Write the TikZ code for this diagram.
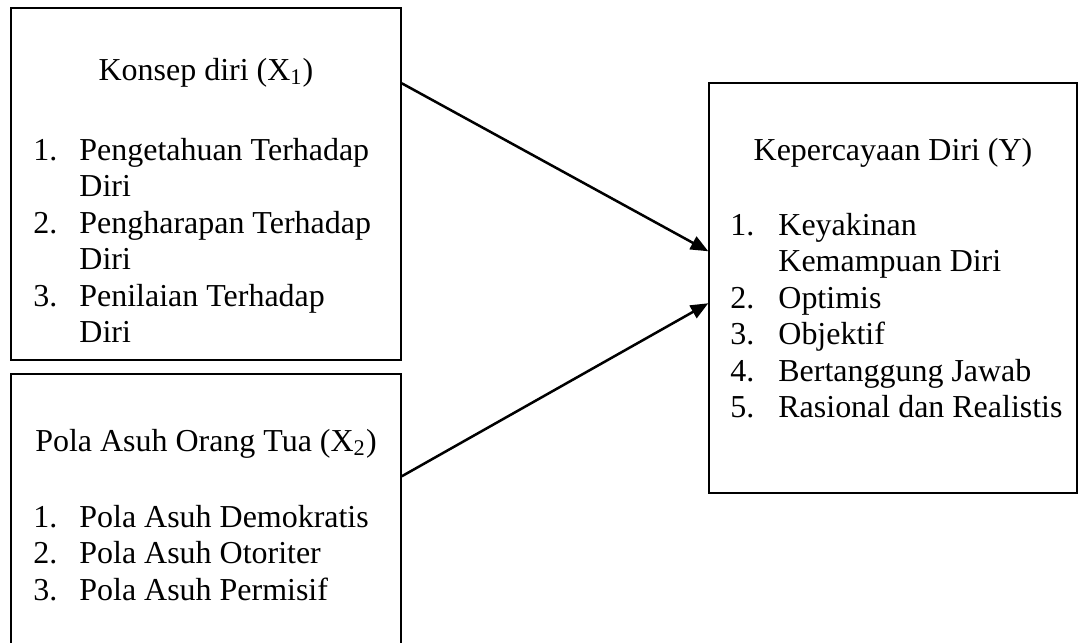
\documentclass[tikz,border=0pt]{standalone}
\usepackage{fontspec}
\setmainfont{Liberation Serif}
\usetikzlibrary{calc,arrows.meta}
\begin{document}
\begin{tikzpicture}[x=0.0154cm, y=-0.0154cm,
      box/.style={draw, line width=0.6pt, rectangle, inner sep=0pt},
      txt/.style={inner sep=0pt, font=\fontsize{14}{16}\selectfont},
      link/.style={-{Triangle[length=0.27cm, width=0.22cm]}, line width=1.1pt}]
            \clip (0,0) rectangle (1080,642);
%           \draw[help lines] (0,0) grid[step=100] (1080,642);
            \node[box, minimum width=6.006cm, minimum height=5.421cm] (konsep) at (206,184) {};
            \node[box, minimum width=6.006cm, minimum height=4.250cm] (pola) at (206,512) {};
            \node[box, minimum width=5.667cm, minimum height=6.314cm] (percaya) at (893,288) {};
            \node[txt, anchor=base] (konsepT) at (206,80) {Konsep diri (X\textsubscript{1})};
            \node[txt, anchor=base] (polaT) at (206,451) {Pola Asuh Orang Tua (X\textsubscript{2})};
            \node[txt, anchor=base] (percayaT) at (893,160) {Kepercayaan Diri (Y)};
            \node[txt, anchor=base west] (konsepL) at (33,160) {%
              \begin{tabular}[t]{@{}p{0.708cm}@{}l@{}}
              1. & Pengetahuan Terhadap\\ & Diri\\
              2. & Pengharapan Terhadap\\ & Diri\\
              3. & Penilaian Terhadap\\ & Diri
              \end{tabular}};
            \node[txt, anchor=base west] (polaL) at (33,527) {%
              \begin{tabular}[t]{@{}p{0.708cm}@{}l@{}}
              1. & Pola Asuh Demokratis\\
              2. & Pola Asuh Otoriter\\
              3. & Pola Asuh Permisif
              \end{tabular}};
            \node[txt, anchor=base west] (percayaL) at (730,235) {%
              \begin{tabular}[t]{@{}p{0.739cm}@{}l@{}}
              1. & Keyakinan\\ & Kemampuan Diri\\
              2. & Optimis\\
              3. & Objektif\\
              4. & Bertanggung Jawab\\
              5. & Rasional dan Realistis
              \end{tabular}};
            \coordinate (k1) at ($(konsep.north east)+(0,76)$);
            \coordinate (p1) at ($(pola.north east)+(0,103)$);
            \coordinate (y1) at ($(percaya.north west)+(0,169)$);
            \coordinate (y2) at ($(percaya.north west)+(0,221)$);
            \draw[link] (k1) -- (y1);
            \draw[link] (p1) -- (y2);
      \end{tikzpicture}
\end{document}
